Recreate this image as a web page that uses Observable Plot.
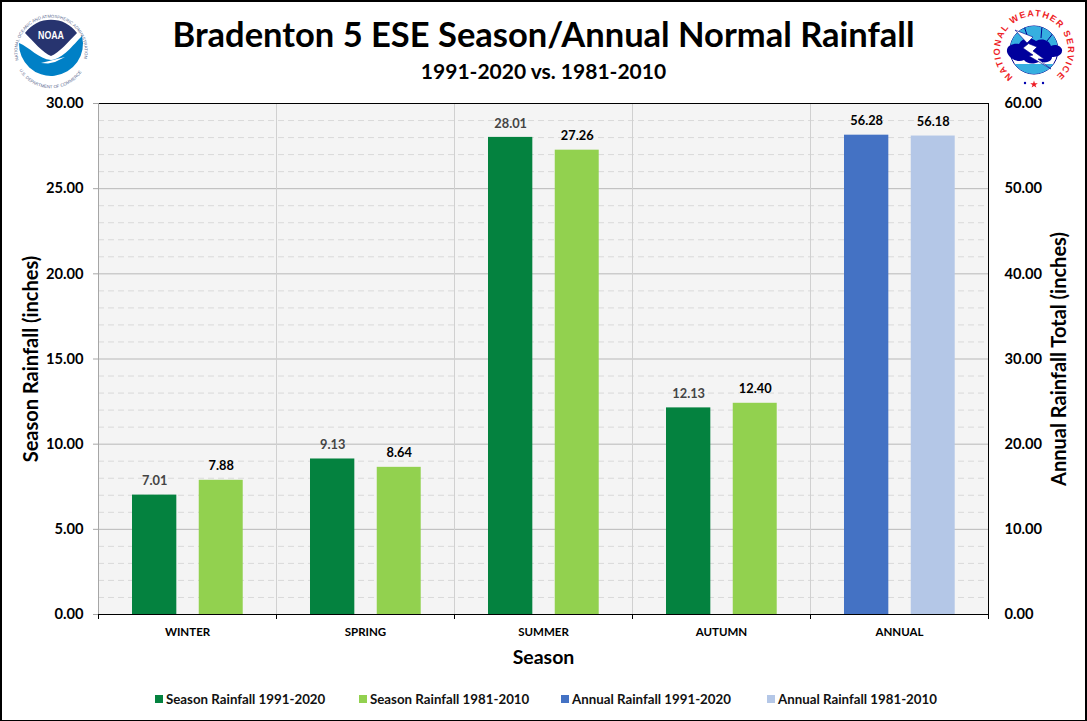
<!DOCTYPE html>
<html><head><meta charset="utf-8">
<script src="https://cdn.jsdelivr.net/npm/d3@7"></script>
<script src="https://cdn.jsdelivr.net/npm/@observablehq/plot@0.6"></script>
<style>
html,body{margin:0;padding:0;background:#fff}
#page{position:relative;width:1087px;height:721px;overflow:hidden;font-family:Lato,sans-serif;color:#000}
#page:after{content:"";position:absolute;inset:0;border:2px solid #000;border-width:2px 2px 1px 2px;pointer-events:none}
#chart{position:absolute;left:0;top:0}
#title{position:absolute;left:0;width:1087px;top:13px;text-align:center;font-weight:700;font-size:34.5px;line-height:42px;white-space:nowrap}
#subtitle{position:absolute;left:0;width:1087px;top:58px;text-align:center;font-weight:700;font-size:21px;line-height:26px}
#legend{position:absolute;top:690px;left:0;height:18px;width:1087px;font-weight:700;font-size:13.3px;line-height:18px}
#legend span{position:absolute;white-space:nowrap;color:#111}
#legend i{position:absolute;width:8px;height:8px;top:5px}
.logo{position:absolute}
</style></head><body>
<div id="page">
<div id="chart"></div>
<div id="title">Bradenton 5 ESE Season/Annual Normal Rainfall</div>
<div id="subtitle">1991-2020 vs. 1981-2010</div>
<div id="legend"></div>
<svg class="logo" style="left:8px;top:7.5px" width="86" height="86" viewBox="-43 -43 86 86">
 <defs>
  <path id="n1" d="M -32 10.5 A 33.6 33.6 0 1 1 32 10.5"/>
  <path id="n2" d="M -33 17 A 37 37 0 0 0 33 17"/>
 </defs>
 <text font-size="4.3" fill="#5a6a90" font-family="Liberation Sans"><textPath href="#n1" startOffset="1%">NATIONAL OCEANIC AND ATMOSPHERIC ADMINISTRATION</textPath></text>
 <text font-size="4.4" fill="#5a6a90" font-family="Liberation Sans"><textPath href="#n2" startOffset="3%">U.S. DEPARTMENT OF COMMERCE</textPath></text>
 <circle r="32" fill="#fff"/>
 <path d="M-26 -18A32 32 0 0 1 26 -18C18 -10 8 2 0 5C-8 2 -18 -10 -26 -18Z" fill="#27346f"/>
 <path d="M-32 -8C-22 -4 -12 8 0 9C12 8 22 -6 31 -15A32 32 0 1 1 -32 -8Z" fill="#0080c6"/>
 <path d="M-10 12L6 8L14 6L4 11L-3 12.5Z" fill="#fff"/>
 <text x="0" y="-12.5" font-size="10.5" font-weight="700" text-anchor="middle" fill="#fff" font-family="Liberation Sans" textLength="26" lengthAdjust="spacingAndGlyphs">NOAA</text>
</svg>
<svg class="logo" style="left:993px;top:9px" width="82" height="82" viewBox="-41 -41 82 82">
 <defs>
  <path id="w1" d="M -21 27 A 34 34 0 1 1 21 27"/>
  <clipPath id="wc"><circle r="24"/></clipPath>
 </defs>
 <text font-size="9" font-weight="700" fill="#ee1c25" font-family="Liberation Sans" letter-spacing="1.35"><textPath href="#w1">NATIONAL WEATHER SERVICE</textPath></text>
 <circle r="24" fill="#fff" stroke="#00008f" stroke-width="1"/>
 <g clip-path="url(#wc)">
  <path d="M-24 -24H24V-3H-24Z" fill="#36afe0"/>
  <path d="M-24 14H24V24H-24Z" fill="#36afe0"/>
  <path d="M-10 -24L-6 -12M8 -24L7 -12M20 -18L13 -9" stroke="#00008f" stroke-width="1"/>
 </g>
 <path d="M-27 2C-28 -5 -20 -7 -15 -6C-12 -12 -4 -13 2 -9C8 -12 15 -10 17 -4C22 -7 29 -3 28 1C28 6 21 7 18 7C18 12 10 14 6 11C0 15 -7 14 -10 10C-16 13 -25 9 -27 2Z" fill="#00009c"/>
 <path d="M-19 -20L-1 -13L-7 -7L3 -3L-1 1L10 9L4 9L17 19L-5 6L-1 5L-11 -2L-6 -6Z" fill="#fff" stroke="#00008f" stroke-width=".6"/>
 <path d="M0 30.5L.9 33.2H3.8L1.5 34.9L2.4 37.6L0 36L-2.4 37.6L-1.5 34.9L-3.8 33.2H-.9Z" fill="#ee1c25"/>
 <circle cx="-9" cy="33" r="1.2" fill="#0000b0"/><circle cx="9" cy="33" r="1.2" fill="#0000b0"/>
</svg>
</div>
<script>
const seasons = ["WINTER", "SPRING", "SUMMER", "AUTUMN", "ANNUAL"];
const current = [7.01, 9.13, 28.01, 12.13, 56.28];
const previous = [7.88, 8.64, 27.26, 12.40, 56.18];
const seriesNames = ["Season Rainfall 1991-2020", "Season Rainfall 1981-2010", "Annual Rainfall 1991-2020", "Annual Rainfall 1981-2010"];
const seriesColors = ["#04823f", "#92d14f", "#4472c4", "#b4c7e7"];
const majorTicks = [0, 5, 10, 15, 20, 25, 30];
const minorTicks = d3.range(0, 31).filter(d => d % 5 !== 0);
const rightScale = 2; // annual axis runs 0-60 over the same height as 0-30

const rows = seasons.flatMap((s, i) => {
  const annual = s === "ANNUAL";
  return [
    {season: s, i, value: current[i], plotted: annual ? current[i] / rightScale : current[i],
     series: seriesNames[annual ? 2 : 0], from: .191, to: .44, labelFill: annual ? "#000" : "#444"},
    {season: s, i, value: previous[i], plotted: annual ? previous[i] / rightScale : previous[i],
     series: seriesNames[annual ? 3 : 1], from: .566, to: .813, labelFill: "#000"}
  ];
});

const plot = Plot.plot({
  width: 1087, height: 721,
  marginTop: 103, marginBottom: 107, marginLeft: 98, marginRight: 99,
  style: {fontFamily: "Lato, sans-serif", background: "transparent", overflow: "visible"},
  x: {domain: [0, 5], axis: null},
  y: {domain: [0, 30], axis: null},
  color: {domain: seriesNames, range: seriesColors},
  marks: [
    Plot.frame({fill: "#f4f4f4", stroke: null}),
    Plot.ruleY(minorTicks, {stroke: "#d9d9d9", strokeDasharray: "6 4", strokeOpacity: 1}),
    Plot.ruleY(majorTicks, {stroke: "#b8b8b8", strokeWidth: 1}),
    Plot.ruleX(d3.range(1, 5), {stroke: "#d0d0d0"}),
    Plot.rectY(rows, {x1: d => d.i + d.from, x2: d => d.i + d.to, y: "plotted", fill: "series"}),
    Plot.frame({anchor: "top", stroke: "#000"}),
    Plot.frame({anchor: "right", stroke: "#000"}),
    Plot.frame({anchor: "left", stroke: "#a6a6a6"}),
    Plot.axisY({anchor: "left", ticks: majorTicks, tickSize: 5, tickPadding: 10, stroke: "#a6a6a6",
      tickFormat: d => d.toFixed(2), fontSize: 14.7, fontWeight: 700, fill: "#000", label: null}),
    Plot.axisY({anchor: "right", ticks: majorTicks, tickSize: 0, tickPadding: 16,
      tickFormat: d => (d * rightScale).toFixed(2), fontSize: 14.7, fontWeight: 700, fill: "#000", label: null}),
    Plot.axisX({ticks: d3.range(0, 6), tickSize: 5, tickFormat: () => "", stroke: "#000", label: null}),
    Plot.axisX({ticks: seasons.map((s, i) => i + .5), tickSize: 0, tickPadding: 13,
      tickFormat: d => seasons[Math.floor(d)], fontSize: 11.5, fontWeight: 700, fill: "#000", label: null}),
    Plot.ruleY([0], {stroke: "#000", strokeWidth: 1}),
    Plot.text(rows, {x: d => d.i + (d.from + d.to) / 2, y: "plotted", text: d => d.value.toFixed(2), dy: -14,
      fill: d => d.labelFill, fontSize: 12.8, fontWeight: 700}),
    Plot.text(["Season"], {frameAnchor: "bottom", dy: 49, fontSize: 19.5, fontWeight: 700, fill: "#000"}),
    Plot.text(["Season Rainfall (inches)"], {frameAnchor: "left", textAnchor: "middle", rotate: -90, dx: -67, fontSize: 20, fontWeight: 700, fill: "#000"}),
    Plot.text(["Annual Rainfall Total (inches)"], {frameAnchor: "right", textAnchor: "middle", rotate: -90, dx: 71, fontSize: 20, fontWeight: 700, fill: "#000"})
  ]
});
document.getElementById("chart").append(plot);

const legendLeft = [155, 359, 561, 767];
const lg = document.getElementById("legend");
seriesNames.forEach((n, k) => {
  const sw = document.createElement("i");
  sw.style.left = legendLeft[k] + "px"; sw.style.background = seriesColors[k];
  const t = document.createElement("span");
  t.style.left = (legendLeft[k] + 11) + "px"; t.textContent = n;
  lg.append(sw, t);
});
</script>
</body></html>
